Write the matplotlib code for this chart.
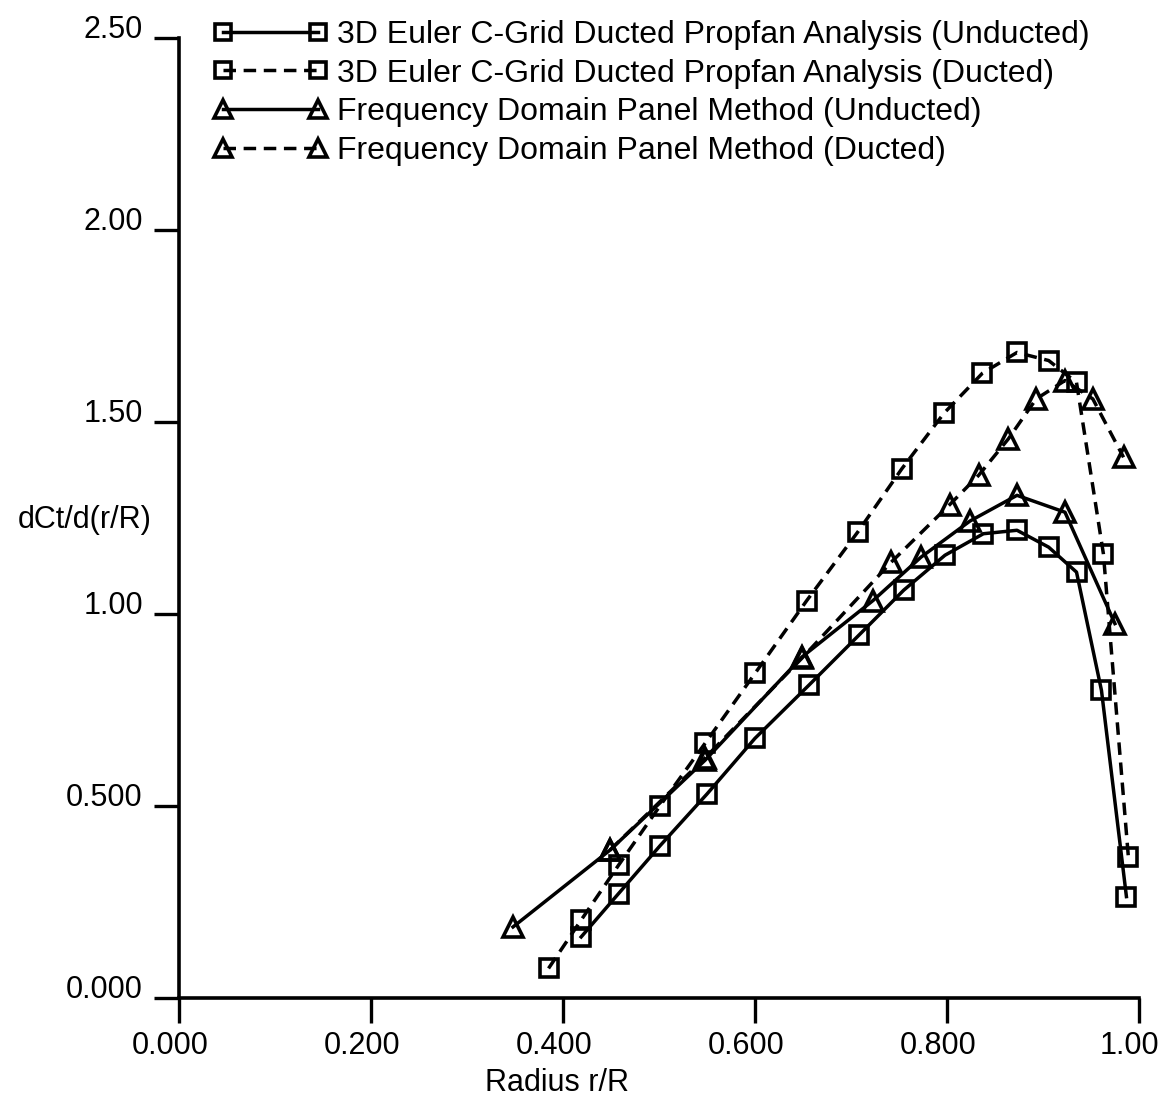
import numpy as np
import matplotlib
matplotlib.use("Agg")
import matplotlib.pyplot as plt
from matplotlib.transforms import ScaledTranslation

plt.rcParams["font.family"] = ["Liberation Sans", "DejaVu Sans"]

# =========================
# Data
# =========================

# 3D Euler C-Grid, unducted (solid, squares)
euler_und_x = [0.419, 0.458, 0.501, 0.550, 0.600, 0.656, 0.708, 0.755, 0.798,
               0.838, 0.873, 0.906, 0.935, 0.961, 0.987]
euler_und_y = [0.159, 0.272, 0.396, 0.531, 0.676, 0.814, 0.944, 1.062, 1.153,
               1.209, 1.218, 1.174, 1.109, 0.801, 0.264]

# 3D Euler C-Grid, ducted (dashed, squares)
euler_duc_x = [0.385, 0.419, 0.458, 0.501, 0.548, 0.600, 0.654, 0.707, 0.753,
               0.797, 0.837, 0.873, 0.906, 0.935, 0.963, 0.989]
euler_duc_y = [0.077, 0.203, 0.346, 0.500, 0.663, 0.845, 1.035, 1.213, 1.378,
               1.523, 1.627, 1.681, 1.660, 1.603, 1.157, 0.368]

# Frequency domain panel method, unducted (solid, triangles)
fdpm_und_x = [0.348, 0.449, 0.548, 0.649, 0.723, 0.773, 0.824, 0.873, 0.923, 0.975]
fdpm_und_y = [0.185, 0.385, 0.619, 0.888, 1.035, 1.148, 1.242, 1.309, 1.265, 0.975]

# Frequency domain panel method, ducted (dashed, triangles)
fdpm_duc_x = [0.449, 0.548, 0.649, 0.742, 0.803, 0.833, 0.864, 0.893, 0.923, 0.952, 0.984]
fdpm_duc_y = [0.385, 0.625, 0.885, 1.135, 1.285, 1.361, 1.456, 1.560, 1.608, 1.560, 1.408]

labels = [
    "3D Euler C-Grid Ducted Propfan Analysis (Unducted)",
    "3D Euler C-Grid Ducted Propfan Analysis (Ducted)",
    "Frequency Domain Panel Method (Unducted)",
    "Frequency Domain Panel Method (Ducted)",
]

x_ticks = [0.0, 0.2, 0.4, 0.6, 0.8, 1.0]
x_tick_labels = ["0.000", "0.200", "0.400", "0.600", "0.800", "1.00"]
y_ticks = [0.0, 0.5, 1.0, 1.5, 2.0, 2.5]
y_tick_labels = ["0.000", "0.500", "1.00", "1.50", "2.00", "2.50"]


def main():
    fig = plt.figure(figsize=(11.65, 10.98), dpi=100)
    ax = fig.add_axes([0.1536, 0.0911, 0.824, 0.8743])

    lw = 2.5
    dash = (0, (3.6, 2.2))
    common = dict(color="black", linewidth=lw, markerfacecolor="none",
                  markeredgecolor="black", markeredgewidth=2.6, clip_on=False)

    ax.plot(euler_und_x, euler_und_y, linestyle="-", marker="s", markersize=12.5,
            label=labels[0], **common)
    ax.plot(euler_duc_x, euler_duc_y, linestyle=dash, marker="s", markersize=12.5,
            label=labels[1], **common)
    ax.plot(fdpm_und_x, fdpm_und_y, linestyle="-", marker="^", markersize=14,
            label=labels[2], **common)
    ax.plot(fdpm_duc_x, fdpm_duc_y, linestyle=dash, marker="^", markersize=14,
            label=labels[3], **common)

    ax.set_xlim(0, 1.0)
    ax.set_ylim(0, 2.5)

    for side in ["top", "right"]:
        ax.spines[side].set_visible(False)
    for side in ["left", "bottom"]:
        ax.spines[side].set_linewidth(2.6)

    ax.set_xticks(x_ticks)
    ax.set_xticklabels(x_tick_labels, fontsize=22)
    ax.set_yticks(y_ticks)
    ax.set_yticklabels(y_tick_labels, fontsize=22, va="baseline")
    ax.tick_params(axis="both", direction="out", length=18, width=2.4, pad=6)
    ax.tick_params(axis="y", pad=8)

    # x tick labels in the scan sit a little left of their ticks
    shift = ScaledTranslation(-9 / 100, 0, fig.dpi_scale_trans)
    for lab in ax.get_xticklabels():
        lab.set_transform(lab.get_transform() + shift)

    fig.text(557 / 1165, 1 - 1083 / 1098, "Radius r/R", fontsize=22,
             ha="center", va="center")
    fig.text(18 / 1165, 1 - 520 / 1098, "dCt/d(r/R)", fontsize=22,
             ha="left", va="center")

    ax.legend(loc="upper left", bbox_to_anchor=(0.023, 1.032), frameon=False,
              fontsize=23, handlelength=3.55, handletextpad=0.3,
              labelspacing=0.27, numpoints=2, markerscale=0.95,
              borderaxespad=0.0)

    fig.savefig("out.png", dpi=100)
    plt.close(fig)


if __name__ == "__main__":
    main()
